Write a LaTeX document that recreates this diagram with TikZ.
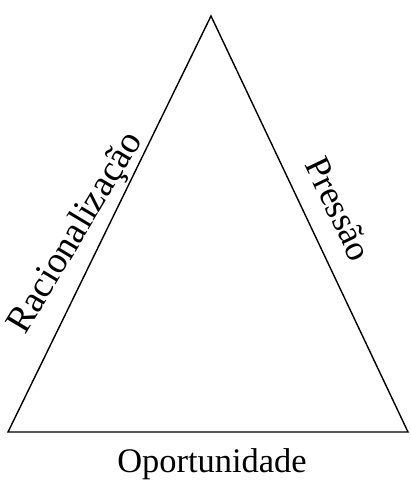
\documentclass[tikz,border=0pt]{standalone}
\usepackage{fontspec}
\setmainfont{Liberation Serif}
\begin{document}
\begin{tikzpicture}[x=0.025cm, y=-0.025cm, line width=1pt, every node/.style={font=\fontsize{25.5}{30}\selectfont, anchor=base}]
        \useasboundingbox (0,0) rectangle (410,485);
        \coordinate (top) at (211,16);
        \coordinate (left) at (8,432);
        \coordinate (right) at (408,432);
        \draw (left) -- (top) -- (right) -- cycle;
        \node[rotate=59,font=\fontsize{26.5}{31}\selectfont] (rac) at (84,238) {Racionalização};
        \node[rotate=-64.4] (pre) at (328,214) {Pressão};
        \node[font=\fontsize{24.5}{29}\selectfont] (opo) at (212,472) {Oportunidade};
    \end{tikzpicture}
\end{document}
